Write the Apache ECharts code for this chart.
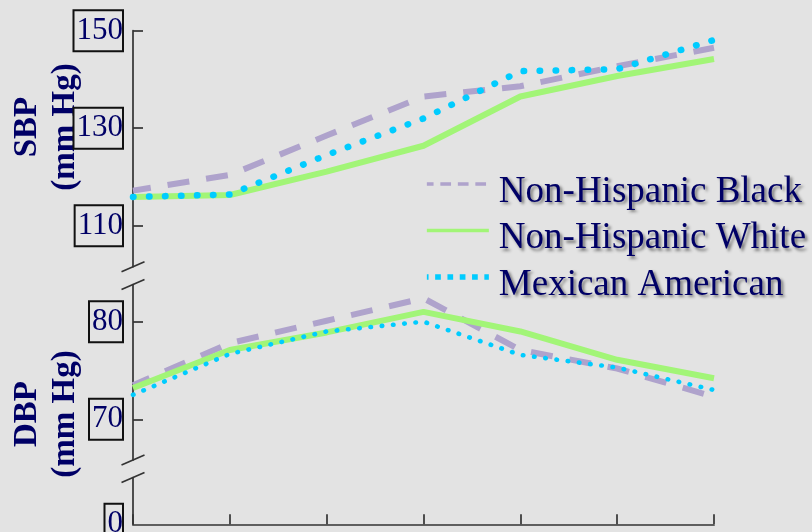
<!DOCTYPE html>
<html>
<head>
<meta charset="utf-8">
<script src="https://cdn.jsdelivr.net/npm/echarts@6/dist/echarts.min.js"></script>
<style>
  html, body { margin: 0; padding: 0; background: #e3e3e3; }
  #chart { width: 812px; height: 532px; }
</style>
</head>
<body>
<div id="chart"></div>
<script>
// Age groups along the x axis (not labelled on the chart)
const ageGroups = ['20–29', '30–39', '40–49', '50–59', '60–69', '70–79', '80+'];
const groupNames = ['Non-Hispanic Black', 'Non-Hispanic White', 'Mexican American'];

// Systolic blood pressure, mm Hg
const sbpBlack   = [117.2, 120.4, 128.5, 136.5, 138.6, 142.7, 146.5];
const sbpWhite   = [115.9, 116.3, 121.1, 126.4, 136.5, 140.7, 144.2];
const sbpMexican = [115.9, 116.4, 124.5, 132.0, 141.7, 142.1, 148.1];

// Diastolic blood pressure, mm Hg
const dbpBlack   = [73.5, 77.8, 80.1, 82.4, 77.1, 75.2, 72.3];
const dbpWhite   = [73.2, 77.1, 78.9, 81.0, 79.0, 76.1, 74.2];
const dbpMexican = [72.5, 76.7, 79.0, 80.0, 76.6, 75.3, 73.0];

// Tick values shown on each broken segment of the y axis
const sbpTicks  = [110, 130, 150];
const dbpTicks  = [70, 80];
const zeroTicks = [0];

// Layout of the three stacked panels (px)
const LEFT = 133, RIGHT = 98;
const SBP_TOP = 30.7, SBP_H = 236;
const DBP_TOP = 284.5, DBP_H = 175.5;
const ZERO_TOP = 477.5, ZERO_H = 46.8;

const NAVY = '#000066';
const AXIS = '#333333';
const COLOR_BLACK = '#afa3cc';
const COLOR_WHITE = '#a2f577';
const COLOR_MEX = '#00ccff';

const axisLabelBox = {
  fontFamily: 'Liberation Serif', fontSize: 31, color: NAVY,
  borderColor: '#111', borderWidth: 2, padding: [3, 0, 3, 3], lineHeight: 35, margin: 10
};

const legendFont = {
  fontFamily: 'Liberation Serif', fontSize: 37, color: NAVY,
  textShadowColor: 'rgba(0,0,0,0.45)', textShadowBlur: 3,
  textShadowOffsetX: 2.5, textShadowOffsetY: 2.5
};

function yAxisFor(gridIndex, min, max, ticks, showTicks) {
  return {
    type: 'value', gridIndex, min, max,
    splitLine: { show: false },
    axisLine: { show: true, lineStyle: { color: AXIS, width: 1.7 } },
    axisTick: { show: showTicks, inside: true, length: 10, customValues: ticks,
                lineStyle: { color: AXIS, width: 1.7 } },
    axisLabel: Object.assign({ customValues: ticks }, axisLabelBox)
  };
}

function xAxisFor(gridIndex, visible) {
  return {
    type: 'category', gridIndex, data: ageGroups, boundaryGap: false, show: visible,
    axisLine: { show: true, onZero: false, lineStyle: { color: AXIS, width: 1.7 } },
    axisTick: { show: true, inside: true, length: 10, interval: 0, alignWithLabel: true,
                lineStyle: { color: AXIS, width: 1.7 } },
    axisLabel: { show: false },
    splitLine: { show: false }
  };
}

function lineSeries(name, data, panel, style) {
  return {
    type: 'line', name, data, xAxisIndex: panel, yAxisIndex: panel,
    symbol: 'none', smooth: false, silent: true,
    lineStyle: style,
    itemStyle: { color: style.color }
  };
}

// Short diagonal marks showing where the y axis is broken
function breakMark(y) {
  return {
    type: 'line', silent: true,
    shape: { x1: LEFT - 11.5, y1: y + 5, x2: LEFT + 11.5, y2: y - 5 },
    style: { stroke: AXIS, lineWidth: 1.7 }
  };
}

function axisTitle(text, x, y) {
  return {
    type: 'text', x, y, rotation: Math.PI / 2, silent: true,
    style: {
      text, fontFamily: 'Liberation Serif', fontWeight: 'bold', fontSize: 33, lineHeight: 38,
      fill: NAVY, align: 'center', verticalAlign: 'middle',
      textAlign: 'center', textVerticalAlign: 'middle'
    }
  };
}

const chart = echarts.init(document.getElementById('chart'), null, { renderer: 'canvas' });

chart.setOption({
  animation: false,
  backgroundColor: '#e3e3e3',
  grid: [
    { left: LEFT, right: RIGHT, top: SBP_TOP, height: SBP_H, outerBoundsMode: 'none', containLabel: false },
    { left: LEFT, right: RIGHT, top: DBP_TOP, height: DBP_H, outerBoundsMode: 'none', containLabel: false },
    { left: LEFT, right: RIGHT, top: ZERO_TOP, height: ZERO_H, outerBoundsMode: 'none', containLabel: false }
  ],
  xAxis: [xAxisFor(0, false), xAxisFor(1, false), xAxisFor(2, true)],
  yAxis: [
    yAxisFor(0, 101.59, 150, sbpTicks, true),
    yAxisFor(1, 65.83, 83.81, dbpTicks, true),
    yAxisFor(2, 0, 10, zeroTicks, false)
  ],
  legend: {
    orient: 'vertical', left: 424, top: 159, padding: 0,
    itemWidth: 62, itemHeight: 36, itemGap: -5,
    selectedMode: false,
    itemStyle: { opacity: 0 },
    // a thin spacer line above each name lowers the text against its line sample
    formatter: '{s| }\n{t|{name}}',
    textStyle: Object.assign({
      padding: [0, 0, 0, 5],
      rich: {
        s: { fontSize: 10, lineHeight: 16, height: 16 },
        t: Object.assign({ lineHeight: 34 }, legendFont)
      }
    }, legendFont),
    data: [
      { name: groupNames[0], lineStyle: { color: COLOR_BLACK, width: 3.3, type: [10.7, 6.8], cap: 'butt' } },
      { name: groupNames[1], lineStyle: { color: COLOR_WHITE, width: 3.5, type: 'solid' } },
      { name: groupNames[2], lineStyle: { color: COLOR_MEX, width: 5.7, type: [5.7, 6.6], cap: 'butt' } }
    ]
  },
  graphic: [
    axisTitle('SBP\n(mm Hg)', 46.5, 127),
    axisTitle('DBP\n(mm Hg)', 46.5, 414),
    breakMark(SBP_TOP + SBP_H),
    breakMark(DBP_TOP),
    breakMark(DBP_TOP + DBP_H),
    breakMark(ZERO_TOP)
  ],
  series: [
    lineSeries(groupNames[0], sbpBlack, 0, { color: COLOR_BLACK, width: 6, type: [22, 17], dashOffset: 4, cap: 'butt', join: 'miter' }),
    lineSeries(groupNames[1], sbpWhite, 0, { color: COLOR_WHITE, width: 6, type: 'solid', join: 'round' }),
    lineSeries(groupNames[2], sbpMexican, 0, { color: COLOR_MEX, width: 6.5, type: [0.5, 15.5], cap: 'round' }),
    lineSeries(groupNames[0], dbpBlack, 1, { color: COLOR_BLACK, width: 6, type: [22, 17], dashOffset: 4, cap: 'butt', join: 'miter' }),
    lineSeries(groupNames[1], dbpWhite, 1, { color: COLOR_WHITE, width: 6, type: 'solid', join: 'round' }),
    lineSeries(groupNames[2], dbpMexican, 1, { color: COLOR_MEX, width: 4.6, type: [0.5, 10.8], cap: 'round' })
  ]
});
</script>
</body>
</html>
